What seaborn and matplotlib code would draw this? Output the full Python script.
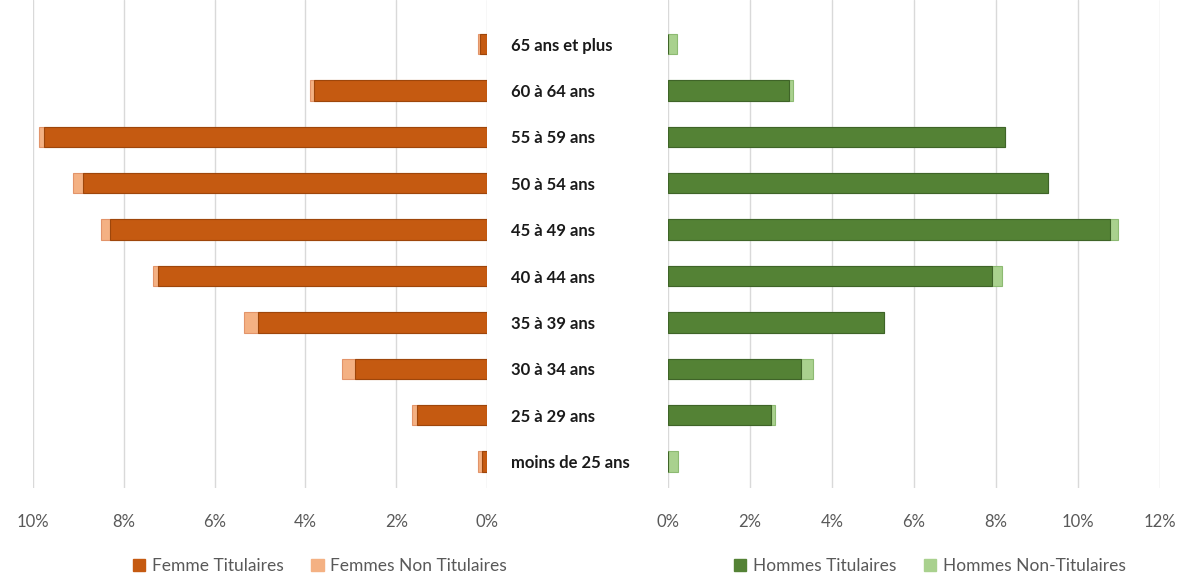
import matplotlib
matplotlib.use("Agg")
import matplotlib.pyplot as plt
from matplotlib.patches import Patch
import seaborn as sns
import pandas as pd

# Age groups, top to bottom
age_groups = ["65 ans et plus", "60 à 64 ans", "55 à 59 ans", "50 à 54 ans",
              "45 à 49 ans", "40 à 44 ans", "35 à 39 ans", "30 à 34 ans",
              "25 à 29 ans", "moins de 25 ans"]

# Shares of total staff (%)
femmes_titulaires = [0.15, 3.8, 9.75, 8.9, 8.3, 7.25, 5.05, 2.9, 1.55, 0.1]
femmes_non_titulaires = [0.05, 0.1, 0.12, 0.22, 0.2, 0.1, 0.3, 0.3, 0.1, 0.1]
hommes_titulaires = [0.0, 2.95, 8.22, 9.28, 10.78, 7.9, 5.27, 3.24, 2.5, 0.0]
hommes_non_titulaires = [0.22, 0.1, 0.0, 0.0, 0.2, 0.25, 0.0, 0.3, 0.1, 0.25]

left_ticks = [10, 8, 6, 4, 2, 0]
right_ticks = [0, 2, 4, 6, 8, 10, 12]

C_F_TIT = "#C55A11"
C_F_NON = "#F4B183"
C_H_TIT = "#548235"
C_H_NON = "#A9D18E"
GRID = "#D9D9D9"
TXT = "#595959"

sns.set_theme(style="white")
plt.rcParams["font.family"] = ["Lato", "DejaVu Sans"]

df = pd.DataFrame({
    "age": age_groups,
    "f_tit": femmes_titulaires,
    "f_tot": [a + b for a, b in zip(femmes_titulaires, femmes_non_titulaires)],
    "h_tit": hommes_titulaires,
    "h_tot": [a + b for a, b in zip(hommes_titulaires, hommes_non_titulaires)],
})

W, H = 1177, 579
fig = plt.figure(figsize=(W / 100, H / 100), dpi=100)
ax_f = fig.add_axes([33 / W, 91 / H, (487 - 33) / W, 488 / H])
ax_h = fig.add_axes([668 / W, 91 / H, (1160 - 668) / W, 488 / H])

bar_w = 0.44

def stacked(ax, tot, tit, c_non, c_tit, edge_non, edge_tit):
    sns.barplot(data=df, x=tot, y="age", orient="h", color=c_non, width=bar_w,
                saturation=1, edgecolor=edge_non, linewidth=0.8, ax=ax, zorder=3)
    sns.barplot(data=df, x=tit, y="age", orient="h", color=c_tit, width=bar_w,
                saturation=1, edgecolor=edge_tit, linewidth=0.8, ax=ax, zorder=4)

stacked(ax_f, "f_tot", "f_tit", C_F_NON, C_F_TIT, "#E2946A", "#9E460B")
stacked(ax_h, "h_tot", "h_tit", C_H_NON, C_H_TIT, "#8DBA72", "#3F6428")

for ax in (ax_f, ax_h):
    ax.set_ylim(9.57, -0.95)
    ax.set_xlabel("")
    ax.set_ylabel("")
    for s in ax.spines.values():
        s.set_visible(False)
    ax.grid(axis="x", color=GRID, linewidth=1.0, zorder=0)
    ax.grid(axis="y", visible=False)
    ax.set_axisbelow(True)
    ax.tick_params(axis="x", length=0, pad=19, labelsize=12, labelcolor=TXT)

# Women: mirrored scale
ax_f.set_xlim(10, 0)
ax_f.set_xticks(left_ticks)
ax_f.set_xticklabels([f"{t}%" for t in left_ticks])
ax_f.set_yticks([])

# Men
ax_h.set_xlim(0, 12)
ax_h.set_xticks(right_ticks)
ax_h.set_xticklabels([f"{t}%" for t in right_ticks])
ax_h.tick_params(axis="y", length=0, pad=113, labelsize=12)
for lab in ax_h.get_yticklabels():
    lab.set_horizontalalignment("left")
    lab.set_fontweight("bold")
    lab.set_color("#1a1a1a")

leg_kw = dict(loc="center", ncol=2, frameon=False, fontsize=12.5,
              handlelength=0.7, handleheight=0.7, handletextpad=0.4,
              columnspacing=1.6, labelcolor=TXT)
fig.legend(handles=[Patch(color=C_F_TIT, label="Femme Titulaires"),
                    Patch(color=C_F_NON, label="Femmes Non Titulaires")],
           bbox_to_anchor=(320 / W, 1 - 566 / H), **leg_kw)
fig.legend(handles=[Patch(color=C_H_TIT, label="Hommes Titulaires"),
                    Patch(color=C_H_NON, label="Hommes Non-Titulaires")],
           bbox_to_anchor=(930 / W, 1 - 566 / H), **leg_kw)

fig.savefig("out.png", dpi=100)
